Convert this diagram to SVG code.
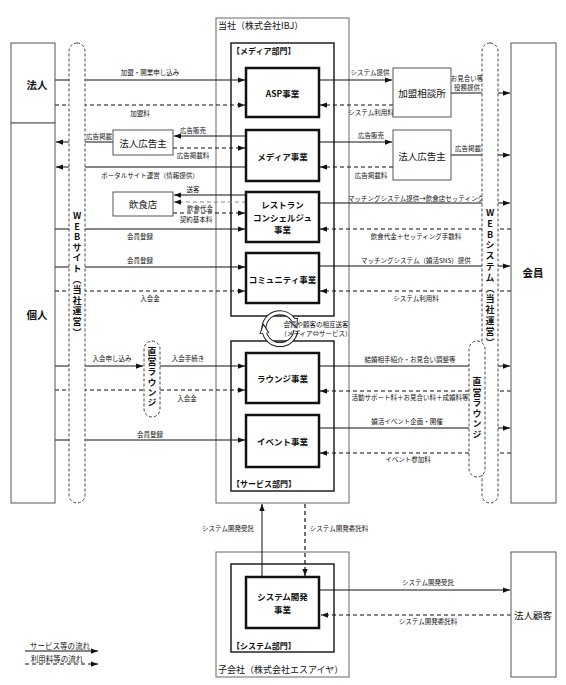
<svg xmlns="http://www.w3.org/2000/svg" width="566" height="685" viewBox="0 0 566 685">
<style>
text{font-family:"Noto Sans CJK JP","Noto Sans",sans-serif;fill:#111}
.bx{fill:#fff;stroke:#555;stroke-width:1}
.biz{fill:#fff;stroke:#111;stroke-width:2.5}
.dept{fill:none;stroke:#222;stroke-width:1.5}
.co{fill:none;stroke:#666;stroke-width:1}
.pill{fill:#fff;stroke:#444;stroke-width:1;stroke-dasharray:3 2}
.s{stroke:#111;stroke-width:1;fill:none;marker-end:url(#ah)}
.d{stroke:#111;stroke-width:1.2;stroke-dasharray:4 3;fill:none;marker-end:url(#ah)}
.g{stroke:#888}
.l{font-size:6.5px;text-anchor:middle;dominant-baseline:central}
.lg{font-size:7.5px;text-anchor:middle;dominant-baseline:central}
.b{font-size:8.5px;font-weight:bold;text-anchor:middle;dominant-baseline:central}
.n{font-size:9.5px;text-anchor:middle;dominant-baseline:central}
.big{font-size:10.5px;font-weight:bold;text-anchor:middle;dominant-baseline:central}
.hd{font-size:9px;dominant-baseline:central}
.dl{font-size:8px;font-weight:bold;dominant-baseline:central}
.v{font-size:9px;font-weight:bold;writing-mode:vertical-rl;text-orientation:upright}
</style>
<defs>
<marker id="ah" viewBox="0 0 8 6" refX="8" refY="3" markerWidth="7" markerHeight="5.5" markerUnits="userSpaceOnUse" orient="auto"><path d="M0,0 L8,3 L0,6 z" fill="#111"/></marker>
<marker id="cy" viewBox="0 0 10 10" refX="3" refY="5" markerWidth="10" markerHeight="11" markerUnits="userSpaceOnUse" orient="auto"><path d="M0,0.5 L9,5 L0,9.5 z" fill="#fff" stroke="#222" stroke-width="1"/></marker>
</defs>
<rect width="566" height="685" fill="#fff"/>

<g id="containers">
<rect class="co" x="216" y="18" width="133" height="485"/>
<text class="hd" x="218" y="25">当社（株式会社IBJ）</text>
<rect class="dept" x="231" y="43" width="103" height="273"/>
<text class="dl" x="232" y="50">【メディア部門】</text>
<rect class="dept" x="231" y="341" width="103" height="150"/>
<text class="dl" x="232" y="483">【サービス部門】</text>
<rect class="co" x="216" y="552" width="133" height="125"/>
<text class="hd" x="218" y="669">子会社（株式会社エスアイヤ）</text>
<rect class="dept" x="231" y="564" width="103" height="88"/>
<text class="dl" x="232" y="645">【システム部門】</text>
</g>

<g id="connectors">
<line class="s" x1="55" y1="80" x2="245" y2="80"/>
<line class="d" x1="55" y1="105" x2="245" y2="105"/>
<line class="s" x1="319" y1="80" x2="392" y2="80"/>
<line class="d" x1="393" y1="105" x2="320" y2="105"/>
<line class="s" x1="451" y1="93" x2="510" y2="93"/>
<line class="s" x1="246" y1="136" x2="174" y2="136"/>
<line class="d" x1="173" y1="148" x2="245" y2="148"/>
<line class="s" x1="113" y1="142" x2="56" y2="142"/>
<line class="s" x1="246" y1="167" x2="56" y2="167"/>
<line class="s" x1="319" y1="142" x2="392" y2="142"/>
<line class="d" x1="393" y1="167" x2="320" y2="167"/>
<line class="s" x1="451" y1="155" x2="510" y2="155"/>
<line class="s" x1="246" y1="195" x2="174" y2="195"/>
<line class="d g" x1="246" y1="202" x2="174" y2="202"/>
<line class="d" x1="173" y1="213" x2="245" y2="213"/>
<line class="s" x1="55" y1="229" x2="245" y2="229"/>
<line class="s" x1="319" y1="203" x2="510" y2="203"/>
<line class="d" x1="511" y1="229" x2="320" y2="229"/>
<line class="s" x1="55" y1="267" x2="245" y2="267"/>
<line class="d" x1="55" y1="291" x2="245" y2="291"/>
<line class="s" x1="319" y1="266" x2="510" y2="266"/>
<line class="d" x1="511" y1="291" x2="320" y2="291"/>
<line class="s" x1="55" y1="366" x2="143" y2="366"/>
<line class="s" x1="160" y1="366" x2="245" y2="366"/>
<line class="d" x1="55" y1="390" x2="245" y2="390"/>
<line class="s" x1="55" y1="440" x2="245" y2="440"/>
<line class="s" x1="319" y1="366" x2="510" y2="366"/>
<line class="d" x1="511" y1="391" x2="320" y2="391"/>
<line class="s" x1="319" y1="428" x2="510" y2="428"/>
<line class="d" x1="511" y1="453" x2="320" y2="453"/>
<line class="s" x1="262" y1="577" x2="262" y2="504"/>
<line class="d" x1="305" y1="504" x2="305" y2="576"/>
<line class="s" x1="320" y1="590" x2="510" y2="590"/>
<line class="d" x1="511" y1="615" x2="321" y2="615"/>
<line class="s" x1="25" y1="651" x2="98" y2="651"/>
<line class="d" x1="25" y1="664" x2="98" y2="664"/>

<path d="M264.5,333.1 A16,16 0 0 1 294.5,322.2" fill="none" stroke="#222" stroke-width="5" marker-end="url(#cy)"/>
<path d="M264.5,333.1 A16,16 0 0 1 294.5,322.2" fill="none" stroke="#fff" stroke-width="3"/>
<path d="M295.9,330.4 A16,16 0 0 1 264.1,330.4" fill="none" stroke="#222" stroke-width="5" marker-end="url(#cy)"/>
<path d="M295.9,330.4 A16,16 0 0 1 264.1,330.4" fill="none" stroke="#fff" stroke-width="3"/>

<text class="l" x="150" y="72">加盟・開業申し込み</text>
<text class="l" x="140" y="113">加盟料</text>
<text class="l" x="370" y="72">システム提供</text>
<text class="l" x="371" y="112">システム利用料</text>
<text class="l" x="467" y="78">お見合い等</text>
<text class="l" x="467" y="87">役務提供</text>
<text class="l" x="193" y="130">広告販売</text>
<text class="l" x="193" y="155">広告掲載料</text>
<text class="l" x="99" y="136">広告掲載</text>
<text class="l" x="150" y="175">ポータルサイト運営（情報提供）</text>
<text class="l" x="371" y="135">広告販売</text>
<text class="l" x="371" y="175">広告掲載料</text>
<text class="l" x="468" y="148">広告掲載</text>
<text class="l" x="193" y="189">送客</text>
<text class="l" x="200" y="208">飲食代金</text>
<text class="l" x="196" y="219">契約基本料</text>
<text class="l" x="140" y="236">会員登録</text>
<text class="l" x="416" y="198">マッチングシステム提供→飲食店セッティング</text>
<text class="l" x="416" y="236">飲食代金＋セッティング手数料</text>
<text class="l" x="140" y="260">会員登録</text>
<text class="l" x="150" y="298">入会金</text>
<text class="l" x="416" y="260">マッチングシステム（婚活SNS）提供</text>
<text class="l" x="416" y="298">システム利用料</text>
<text class="l" x="316" y="324">会員や顧客の相互送客</text>
<text class="l" x="316" y="333">（メディア⇔サービス）</text>
<text class="l" x="112" y="358">入会申し込み</text>
<text class="l" x="188" y="358">入会手続き</text>
<text class="l" x="187" y="398">入会金</text>
<text class="l" x="150" y="434">会員登録</text>
<text class="l" x="410" y="359">結婚相手紹介・お見合い調整等</text>
<text class="l" x="410" y="397">活動サポート料＋お見合い料＋成婚料等</text>
<text class="l" x="407" y="421">婚活イベント企画・開催</text>
<text class="l" x="408" y="459">イベント参加料</text>
<text class="l" x="228" y="528">システム開発受託</text>
<text class="l" x="339" y="528">システム開発委託料</text>
<text class="l" x="428" y="582">システム開発受託</text>
<text class="l" x="428" y="621">システム開発委託料</text>
<text class="lg" x="60" y="645">サービス等の流れ</text>
<text class="lg" x="57" y="658">利用料等の流れ</text>
</g>

<g id="houjin"><rect class="bx" x="11" y="43" width="44" height="80"/><text class="big" x="37" y="84">法人</text></g>
<g id="kojin"><rect class="bx" x="11" y="123" width="44" height="380"/><text class="big" x="37" y="314">個人</text></g>
<g id="web-site"><rect class="pill" x="69" y="43" width="16" height="460" rx="8"/><text class="v" x="77" y="211" letter-spacing="1.6">WEBサイト（当社運営）</text></g>
<g id="web-system"><rect class="pill" x="482" y="43" width="16" height="460" rx="8"/><text class="v" x="490" y="208" letter-spacing="1.8">WEBシステム（当社運営）</text></g>
<g id="lounge-left"><rect class="pill" x="144" y="341" width="16" height="76" rx="8"/><text class="v" x="152" y="347" letter-spacing="1.2">直営ラウンジ</text></g>
<g id="lounge-right"><rect class="pill" x="469" y="341" width="16" height="136" rx="8"/><text class="v" x="477" y="377" letter-spacing="1.6">直営ラウンジ</text></g>
<g id="kaiin"><rect class="bx" x="511" y="43" width="45" height="460"/><text class="big" x="533" y="272">会員</text></g>
<g id="houjin-kokyaku"><rect class="bx" x="511" y="552" width="45" height="125"/><text class="n" x="533" y="615">法人顧客</text></g>
<g id="koukokunushi-left"><rect class="bx" x="113" y="130" width="60" height="25"/><text class="n" x="143" y="142.5">法人広告主</text></g>
<g id="inshokuten"><rect class="bx" x="113" y="192" width="60" height="24"/><text class="n" x="143" y="204">飲食店</text></g>
<g id="kamei"><rect class="bx" x="393" y="68" width="58" height="49"/><text class="n" x="422" y="93">加盟相談所</text></g>
<g id="koukokunushi-right"><rect class="bx" x="393" y="130" width="58" height="50"/><text class="n" x="422" y="156">法人広告主</text></g>
<g id="asp"><rect class="biz" x="246" y="68" width="73" height="49"/><text class="b" x="282.5" y="93">ASP事業</text></g>
<g id="media"><rect class="biz" x="246" y="130" width="73" height="51"/><text class="b" x="282.5" y="156">メディア事業</text></g>
<g id="restaurant"><rect class="biz" x="246" y="192" width="73" height="50"/><text class="b" x="282.5" y="204">レストラン</text><text class="b" x="282.5" y="216.5">コンシェルジュ</text><text class="b" x="282.5" y="229">事業</text></g>
<g id="community"><rect class="biz" x="246" y="253" width="73" height="50"/><text class="b" x="282.5" y="278.5">コミュニティ事業</text></g>
<g id="lounge"><rect class="biz" x="246" y="353" width="73" height="50"/><text class="b" x="282.5" y="378">ラウンジ事業</text></g>
<g id="event"><rect class="biz" x="246" y="415" width="73" height="52"/><text class="b" x="282.5" y="441">イベント事業</text></g>
<g id="sysdev"><rect class="biz" x="246" y="577" width="73" height="51"/><text class="b" x="282.5" y="596">システム開発</text><text class="b" x="282.5" y="609">事業</text></g>
</svg>
